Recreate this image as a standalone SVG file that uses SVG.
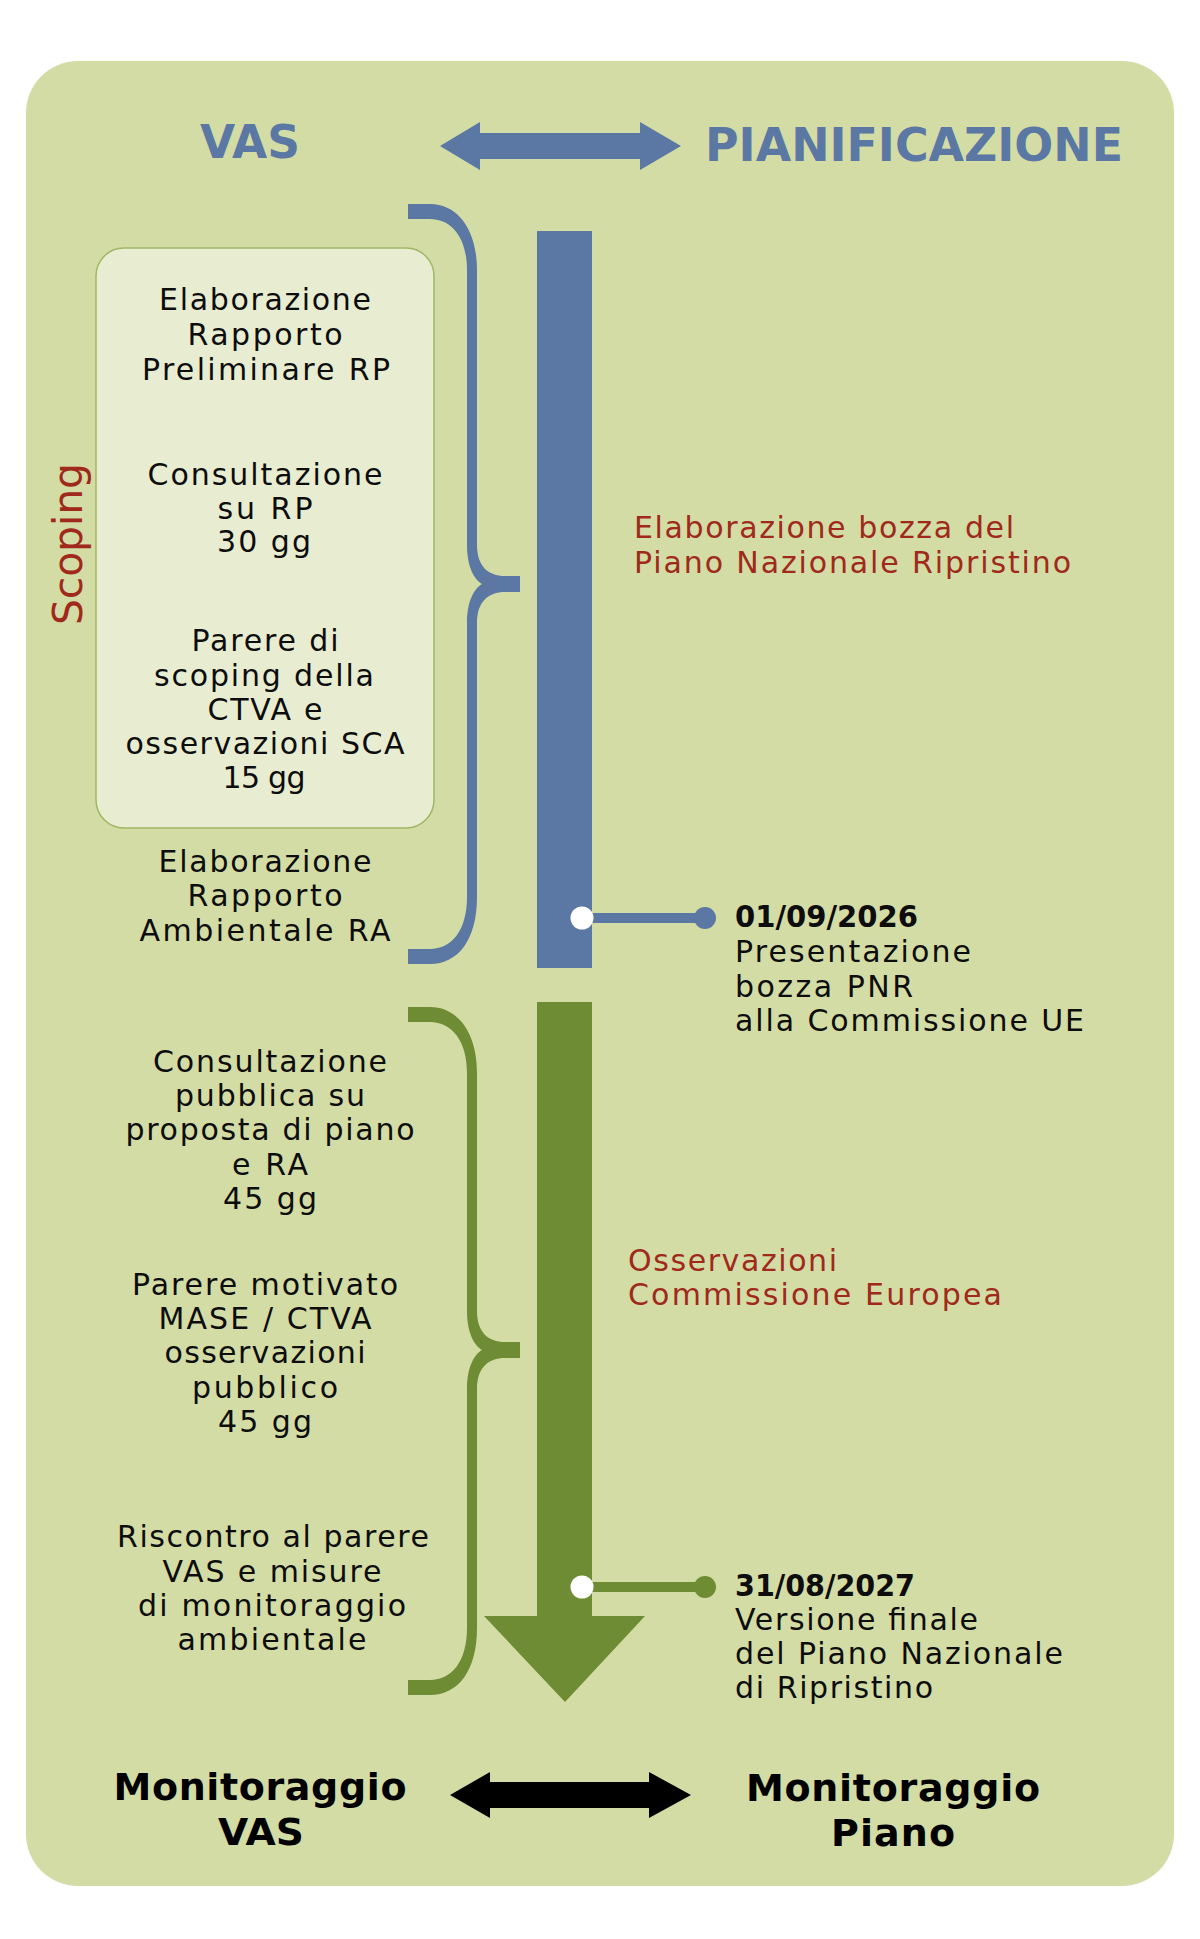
<svg xmlns="http://www.w3.org/2000/svg" width="1200" height="1939" viewBox="0 0 1200 1939">
<style>
.t{font-family:"DejaVu Sans","Liberation Sans",sans-serif;font-size:30px;fill:#0d0d0d}
.c{text-anchor:middle}
.r{fill:#9f2a1b}
.b{font-weight:bold}
.h{font-family:"DejaVu Sans","Liberation Sans",sans-serif;font-weight:bold;font-size:46px;fill:#5b77a3}
.m{font-family:"DejaVu Sans","Liberation Sans",sans-serif;font-weight:bold;font-size:38px;fill:#000;text-anchor:middle}
.blue{fill:#5b77a3}
.green{fill:#6e8c33}
</style>
<rect x="0" y="0" width="1200" height="1939" fill="#ffffff"/>
<rect id="background" x="26" y="61" width="1148" height="1825" rx="52" fill="#d4dca5"/>

<g id="header">
<text class="h c" x="250" y="158" textLength="100" lengthAdjust="spacingAndGlyphs">VAS</text>
<text class="h c" x="914" y="161" textLength="418" lengthAdjust="spacingAndGlyphs">PIANIFICAZIONE</text>
</g>

<g id="connectors">
<polygon class="blue" points="440,146 480,122 480,133 640,133 640,122 681,146 640,170 640,159 480,159 480,170"/>
<polygon fill="#000" points="450,1795 490,1772 490,1782 649,1782 649,1772 691,1795 649,1818 649,1808 490,1808 490,1818"/>
<path class="blue" d="M408,204 H430 C458,204 477,230 477,270 V545 C477,566 488,576 505,576 H520 V592 H505 C488,592 477,602 477,623 V897 C477,940 458,964 430,964 H408 V949 H430 C452,949 467,930 467,897 V623 C467,600 475,588 482,584 C475,580 467,568 467,545 V270 C467,238 452,219 430,219 H408 Z"/>
<path class="green" d="M408,1007 H430 C458,1007 477,1033 477,1073 V1311 C477,1332 488,1342 505,1342 H520 V1358 H505 C488,1358 477,1368 477,1389 V1628 C477,1671 458,1695 430,1695 H408 V1680 H430 C452,1680 467,1661 467,1628 V1389 C467,1366 475,1354 482,1350 C475,1346 467,1334 467,1311 V1073 C467,1041 452,1022 430,1022 H408 Z"/>
<rect class="blue" x="537" y="231" width="55" height="737"/>
<polygon class="green" points="537,1002 592,1002 592,1616 645,1616 565,1702 484,1616 537,1616"/>
<rect class="blue" x="582" y="913" width="123" height="10"/>
<circle class="blue" cx="705" cy="918" r="11"/>
<circle fill="#ffffff" cx="582" cy="918" r="11.5"/>
<rect class="green" x="582" y="1582" width="123" height="10"/>
<circle class="green" cx="705" cy="1587" r="11"/>
<circle fill="#ffffff" cx="582" cy="1587" r="11.5"/>
</g>

<g id="scoping-box">
<rect x="96" y="248" width="338" height="580" rx="28" fill="#e8edd1" stroke="#9fb765" stroke-width="1.5"/>
<text class="t c" x="265" y="310" textLength="212" lengthAdjust="spacing">Elaborazione</text>
<text class="t c" x="265" y="345" textLength="155" lengthAdjust="spacing">Rapporto</text>
<text class="t c" x="266" y="380" textLength="248" lengthAdjust="spacing">Preliminare RP</text>
<text class="t c" x="265" y="485" textLength="235" lengthAdjust="spacing">Consultazione</text>
<text class="t c" x="265" y="519" textLength="95" lengthAdjust="spacing">su RP</text>
<text class="t c" x="264" y="552" textLength="94" lengthAdjust="spacing">30 gg</text>
<text class="t c" x="265" y="651" textLength="147" lengthAdjust="spacing">Parere di</text>
<text class="t c" x="264" y="686" textLength="220" lengthAdjust="spacing">scoping della</text>
<text class="t c" x="265" y="720" textLength="115" lengthAdjust="spacing">CTVA e</text>
<text class="t c" x="265" y="754" textLength="279" lengthAdjust="spacing">osservazioni SCA</text>
<text class="t c" x="264" y="788" textLength="83" lengthAdjust="spacing">15 gg</text>
</g>

<g id="scoping-label">
<text class="t r" style="font-size:41px" transform="translate(82,625) rotate(-90)" textLength="162" lengthAdjust="spacing">Scoping</text>
</g>

<g id="rapporto-ambientale">
<text class="t c" x="265" y="872" textLength="213" lengthAdjust="spacing">Elaborazione</text>
<text class="t c" x="265" y="906" textLength="155" lengthAdjust="spacing">Rapporto</text>
<text class="t c" x="265" y="941" textLength="251" lengthAdjust="spacing">Ambientale RA</text>
</g>

<g id="consultazione-pubblica">
<text class="t c" x="270" y="1072" textLength="234" lengthAdjust="spacing">Consultazione</text>
<text class="t c" x="270" y="1106" textLength="190" lengthAdjust="spacing">pubblica su</text>
<text class="t c" x="270" y="1140" textLength="289" lengthAdjust="spacing">proposta di piano</text>
<text class="t c" x="270" y="1175" textLength="76" lengthAdjust="spacing">e RA</text>
<text class="t c" x="270" y="1209" textLength="94" lengthAdjust="spacing">45 gg</text>
</g>

<g id="parere-motivato">
<text class="t c" x="265" y="1295" textLength="266" lengthAdjust="spacing">Parere motivato</text>
<text class="t c" x="265" y="1329" textLength="213" lengthAdjust="spacing">MASE / CTVA</text>
<text class="t c" x="265" y="1363" textLength="201" lengthAdjust="spacing">osservazioni</text>
<text class="t c" x="265" y="1398" textLength="146" lengthAdjust="spacing">pubblico</text>
<text class="t c" x="265" y="1432" textLength="94" lengthAdjust="spacing">45 gg</text>
</g>

<g id="riscontro">
<text class="t c" x="273" y="1547" textLength="312" lengthAdjust="spacing">Riscontro al parere</text>
<text class="t c" x="272" y="1582" textLength="219" lengthAdjust="spacing">VAS e misure</text>
<text class="t c" x="272" y="1616" textLength="268" lengthAdjust="spacing">di monitoraggio</text>
<text class="t c" x="272" y="1650" textLength="189" lengthAdjust="spacing">ambientale</text>
</g>

<g id="bozza-piano">
<text class="t r" x="634" y="538" textLength="380" lengthAdjust="spacing">Elaborazione bozza del</text>
<text class="t r" x="634" y="573" textLength="437" lengthAdjust="spacing">Piano Nazionale Ripristino</text>
</g>

<g id="milestone-2026">
<text class="t b" x="735" y="927" textLength="183" lengthAdjust="spacingAndGlyphs">01/09/2026</text>
<text class="t" x="735" y="962" textLength="236" lengthAdjust="spacing">Presentazione</text>
<text class="t" x="735" y="997" textLength="178" lengthAdjust="spacing">bozza PNR</text>
<text class="t" x="735" y="1031" textLength="349" lengthAdjust="spacing">alla Commissione UE</text>
</g>

<g id="osservazioni-ce">
<text class="t r" x="628" y="1271" textLength="209" lengthAdjust="spacing">Osservazioni</text>
<text class="t r" x="628" y="1305" textLength="374" lengthAdjust="spacing">Commissione Europea</text>
</g>

<g id="milestone-2027">
<text class="t b" x="735" y="1596" textLength="180" lengthAdjust="spacingAndGlyphs">31/08/2027</text>
<text class="t" x="735" y="1630" textLength="243" lengthAdjust="spacing">Versione finale</text>
<text class="t" x="735" y="1664" textLength="328" lengthAdjust="spacing">del Piano Nazionale</text>
<text class="t" x="735" y="1698" textLength="198" lengthAdjust="spacing">di Ripristino</text>
</g>

<g id="monitoraggio-vas">
<text class="m" x="260" y="1800" textLength="293" lengthAdjust="spacing">Monitoraggio</text>
<text class="m" x="261" y="1845" textLength="86" lengthAdjust="spacingAndGlyphs">VAS</text>
</g>

<g id="monitoraggio-piano">
<text class="m" x="893" y="1801" textLength="294" lengthAdjust="spacing">Monitoraggio</text>
<text class="m" x="893" y="1846" textLength="124" lengthAdjust="spacing">Piano</text>
</g>
</svg>
